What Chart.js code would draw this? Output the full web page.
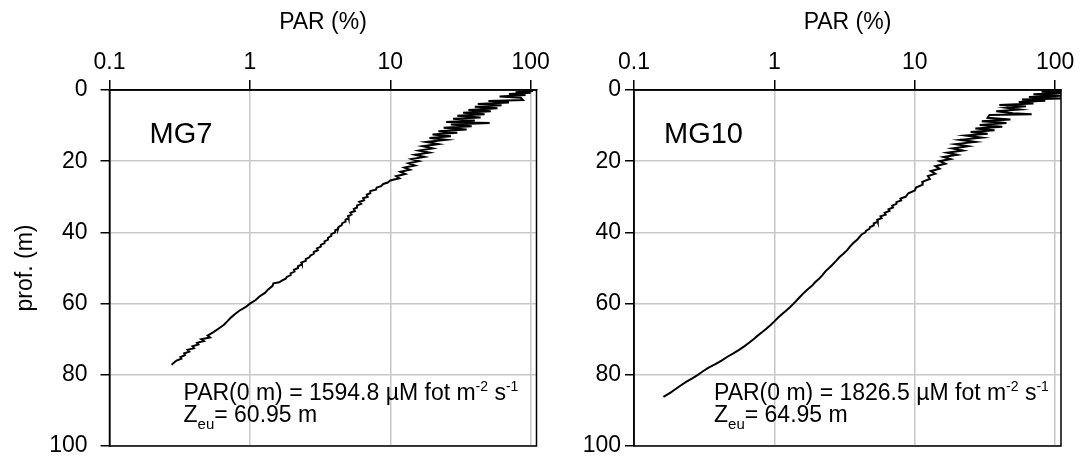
<!DOCTYPE html>
<html>
<head>
<meta charset="utf-8">
<script src="https://cdn.jsdelivr.net/npm/chart.js@4.4.1/dist/chart.umd.min.js"></script>
<style>
  html, body { margin: 0; padding: 0; background: #fff; }
  #wrap { position: relative; width: 1085px; height: 456px; overflow: hidden; }
  canvas { position: absolute; top: 0; }
  #c1 { left: 0; }
  #c2 { left: 560px; }
</style>
</head>
<body>
<div id="wrap">
  <canvas id="c1" width="560" height="456"></canvas>
  <canvas id="c2" width="525" height="456"></canvas>
</div>
<script>
const parTicks = [0.1, 1, 10, 100];
const depthMax = 100;

// MG7 profile: depth (m) and PAR (%)
const mg7Depth = [0.3, 0.6, 0.8, 1.1, 1.4, 1.8, 2.2, 2.8, 3.1, 3.5, 3.9, 4.3, 4.7, 5.1, 5.6, 6.0, 6.4, 6.8, 7.2, 7.7,
  8.1, 8.6, 9.0, 9.3, 9.7, 10.2, 10.6, 11.1, 11.6, 12.0, 12.5, 13.0, 13.5, 14.0, 14.6, 15.2, 15.8, 16.4, 17.0, 17.6,
  18.2, 18.8, 19.4, 20.0, 20.6, 21.2, 21.8, 22.4, 23.0, 23.6, 24.2, 24.8, 25.4,
  26.0, 26.4, 27.0, 27.4, 28.0, 28.4, 29.0, 29.4, 30.0, 30.4, 31.0, 31.4, 32.0, 32.4, 33.0, 33.4, 34.0, 34.4, 35.0, 35.4,
  36.0, 36.4, 37.0, 37.4, 38.0, 38.4, 39.0, 39.4, 40.0, 40.5, 41.0, 41.5, 42.0, 42.5, 43.0, 43.5, 44.0, 44.5, 45.0, 45.5,
  46.0, 46.5, 47.0, 47.5, 48.0, 48.5, 49.0, 49.5, 50.0, 50.5, 51.0, 51.5, 52.0, 52.5, 53.0, 53.5, 54.0, 54.3,
  55.0, 56.0, 57.0, 58.0, 59.0, 60.0, 61.0, 62.0, 63.0, 64.0, 65.0, 66.0, 67.0, 68.0,
  69.0, 69.5, 70.0, 70.5, 71.0, 71.5, 72.0, 72.5, 73.0, 73.5, 74.0, 74.5, 75.0, 75.5, 76.0, 76.5, 77.2];
const mg7Par = [104, 78, 100, 70, 92, 60, 85, 88, 50, 70, 42, 62, 40, 58, 36, 52, 33, 47, 30, 44,
  28, 40, 25, 51, 27, 38, 24, 35, 22, 30, 20, 27, 19, 25, 18, 22, 17, 20, 16, 19,
  15, 17.5, 14.2, 16, 13.5, 15, 12.6, 13.8, 11.8, 12.8, 11, 11.6, 10,
  9.6, 8.9, 8.6, 8.0, 7.9, 7.2, 7.2, 6.8, 6.9, 6.4, 6.5, 6.0, 6.2, 5.8, 5.8, 5.5, 5.6, 5.2, 5.3, 5.0,
  5.05, 4.8, 4.8, 4.55, 4.5, 4.3, 4.25, 4.05, 4.05, 3.8, 3.8, 3.6, 3.6, 3.4, 3.4, 3.2, 3.2, 3.0, 3.05, 2.85,
  2.85, 2.7, 2.65, 2.5, 2.5, 2.32, 2.35, 2.2, 2.2, 2.06, 2.08, 1.95, 1.95, 1.83, 1.8, 1.7, 1.62, 1.47,
  1.45, 1.35, 1.28, 1.17, 1.1, 1.0, 0.93, 0.84, 0.78, 0.73, 0.69, 0.65, 0.6, 0.55,
  0.5, 0.52, 0.45, 0.47, 0.42, 0.43, 0.39, 0.40, 0.36, 0.37, 0.34, 0.345, 0.32, 0.325, 0.30, 0.29, 0.277];

// MG10 profile: depth (m) and PAR (%)
const mg10Depth = [0.2, 0.5, 0.8, 1.2, 1.6, 2.0, 2.4, 2.7, 3.0, 3.4, 3.8, 4.2, 4.6, 5.0, 5.5, 6.0, 6.5, 6.8, 7.0, 7.8,
  8.3, 8.8, 9.3, 9.8, 10.3, 10.8, 11.3, 11.8, 12.3, 12.8, 13.4, 14.0, 14.6, 15.2, 15.8, 16.4, 17.0, 17.6, 18.2, 18.8,
  19.4, 20.0, 20.7, 21.4, 22.1, 22.8, 23.5, 24.2, 25.0, 25.8, 26.6, 27.4, 28.2, 29.0,
  30.0, 30.5, 31.0, 31.5, 32.0, 32.5, 33.0, 33.5, 34.0, 34.5, 35.0, 35.5, 36.0, 36.5, 37.0, 37.5, 38.0, 38.5, 39.0, 39.5,
  40.0, 40.5, 41.0, 42.0, 43.0, 44.0, 45.0, 46.0, 47.0, 48.0, 49.0, 50.0, 51.0, 52.0, 53.0, 54.0, 55.0,
  56.0, 57.0, 58.0, 59.0, 60.0, 61.0, 62.0, 63.0, 64.0, 65.0, 66.0, 67.0, 68.0, 69.0, 70.0, 71.0, 72.0, 73.0, 74.0, 75.0,
  76.0, 77.0, 78.0, 79.0, 80.0, 81.0, 82.0, 83.0, 84.0, 85.0, 86.2];
const mg10Par = [115, 80, 112, 70, 112, 65, 110, 58, 85, 55, 70, 40, 62, 45, 56, 38, 50, 68, 34, 33,
  48, 30, 45, 29, 42, 27, 37, 25, 33, 23, 30, 21, 27, 19.5, 24, 18.5, 22, 17, 20, 16,
  18, 15, 16.5, 14, 15, 13, 14, 12.4, 12.8, 11.3, 11.4, 10.2, 10.0, 9.0,
  8.6, 7.9, 8.0, 7.4, 7.4, 6.9, 7.0, 6.5, 6.6, 6.1, 6.2, 5.7, 5.8, 5.4, 5.45, 5.1, 5.1, 4.8, 4.75, 4.5,
  4.45, 4.2, 4.1, 3.9, 3.65, 3.45, 3.3, 3.1, 2.9, 2.75, 2.6, 2.45, 2.3, 2.2, 2.08, 1.95, 1.85,
  1.73, 1.62, 1.53, 1.45, 1.37, 1.29, 1.21, 1.13, 1.06, 1.0, 0.94, 0.88, 0.82, 0.76, 0.71, 0.66, 0.61, 0.56, 0.51, 0.46,
  0.42, 0.38, 0.34, 0.31, 0.285, 0.26, 0.235, 0.215, 0.198, 0.182, 0.162];

const FONTE = "'Liberation Sans', Arial, sans-serif";

function montarPontos(prof, par) {
    return prof.map((d, i) => ({ x: par[i], y: d }));
}

// writes a run of text pieces with sizes and vertical shifts
function escreverPartes(ctx, x, y, partes) {
    partes.forEach(p => {
        ctx.font = p[1] + 'px ' + FONTE;
        ctx.fillText(p[0], x, y + p[2]);
        x += ctx.measureText(p[0]).width;
    });
}

const pluginPainel = {
    id: 'painel',
    afterDatasetsDraw(chart, args, opts) {
        const { ctx, chartArea: a } = chart;
        ctx.save();
        ctx.strokeStyle = '#000';
        ctx.lineWidth = 1.5;
        ctx.strokeRect(a.left, a.top, a.right - a.left, a.bottom - a.top);
        ctx.fillStyle = '#000';
        ctx.textBaseline = 'alphabetic';
        ctx.textAlign = 'left';
        ctx.font = '29px ' + FONTE;
        ctx.fillText(opts.nome, a.left + opts.nomeX, a.top + 53);
        const tx = a.left + opts.textoX;
        escreverPartes(ctx, tx, a.top + 310, [
            ['PAR(0 m) = ' + opts.par0 + ' \u00b5M fot m', 23, 0], ['-2', 14, -9], [' s', 23, 0], ['-1', 14, -9]
        ]);
        escreverPartes(ctx, tx, a.top + 332, [
            ['Z', 23, 0], ['eu', 15, 7], ['= ' + opts.zeu + ' m', 23, 0]
        ]);
        ctx.restore();
    }
};

function criarPainel(id, pontos, cfg) {
    return new Chart(document.getElementById(id), {
        type: 'scatter',
        data: {
            datasets: [{
                data: pontos,
                showLine: true,
                borderColor: '#000',
                borderWidth: 2,
                pointRadius: 0,
                tension: 0
            }]
        },
        options: {
            responsive: false,
            animation: false,
            devicePixelRatio: 1,
            layout: { padding: { left: 0, right: cfg.padDir, top: 0, bottom: 10 } },
            plugins: {
                legend: { display: false },
                tooltip: { enabled: false },
                painel: cfg
            },
            scales: {
                x: {
                    type: 'logarithmic',
                    position: 'top',
                    min: 0.1,
                    max: 110,
                    afterBuildTicks: s => { s.ticks = parTicks.map(v => ({ value: v })); },
                    afterFit: s => { s.height = 90; s.paddingLeft = 0; s.paddingRight = 0; },
                    ticks: {
                        color: '#000',
                        font: { family: FONTE, size: 23 },
                        padding: 4,
                        maxRotation: 0,
                        callback: v => String(v)
                    },
                    grid: { color: '#c8c8c8', lineWidth: 1.5, tickColor: '#000', tickLength: 10, tickWidth: 1.5 },
                    border: { display: true, color: '#000', width: 1.5 },
                    title: {
                        display: true,
                        text: 'PAR (%)',
                        color: '#000',
                        font: { family: FONTE, size: 23 },
                        padding: { top: 9, bottom: 0 }
                    }
                },
                y: {
                    type: 'linear',
                    reverse: true,
                    min: 0,
                    max: depthMax,
                    afterFit: s => { s.width = cfg.larguraY; s.paddingTop = 0; s.paddingBottom = 0; },
                    ticks: {
                        stepSize: 20,
                        color: '#000',
                        font: { family: FONTE, size: 23 },
                        padding: cfg.padTickY
                    },
                    grid: { color: '#c8c8c8', lineWidth: 1.5, tickColor: '#000', tickLength: 9, tickWidth: 1.5 },
                    border: { display: true, color: '#000', width: 1.5 },
                    title: {
                        display: cfg.tituloY,
                        text: 'prof. (m)',
                        color: '#000',
                        font: { family: FONTE, size: 23 },
                        padding: { top: 12, bottom: 0 }
                    }
                }
            }
        },
        plugins: [pluginPainel]
    });
}

criarPainel('c1', montarPontos(mg7Depth, mg7Par), {
    nome: 'MG7', par0: '1594.8', zeu: '60.95',
    nomeX: 40, textoX: 74, larguraY: 109.5, padDir: 23.5, padTickY: 13, tituloY: true
});
criarPainel('c2', montarPontos(mg10Depth, mg10Par), {
    nome: 'MG10', par0: '1826.5', zeu: '64.95',
    nomeX: 30, textoX: 80, larguraY: 74, padDir: 24, padTickY: 4, tituloY: false
});
</script>
</body>
</html>
